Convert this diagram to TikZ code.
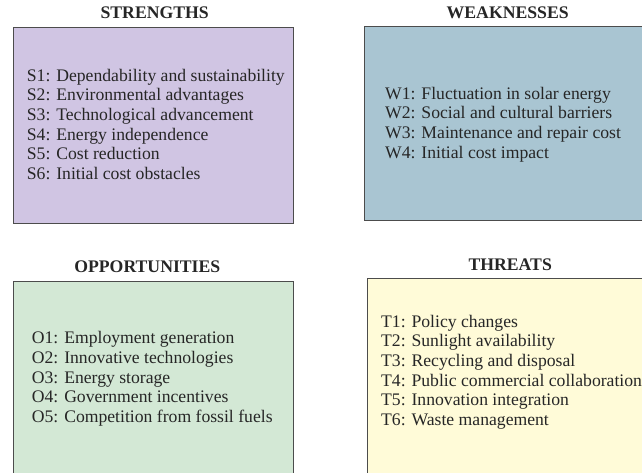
\documentclass[tikz,border=0pt]{standalone}
\usepackage{fontspec}
\setmainfont{Liberation Serif}
\definecolor{strcol}{HTML}{D0C5E3}
\definecolor{weakcol}{HTML}{A9C5D2}
\definecolor{oppcol}{HTML}{D3E8D5}
\definecolor{thrcol}{HTML}{FFFBD8}
\tikzset{
swotbox/.style={
	  draw=black!70, line width=0.9pt, anchor=north west, inner sep=0pt},
swottitle/.style={
	  font=\fontsize{17.7}{19.7}\selectfont\bfseries, text=black!85, anchor=base},
swotitem/.style={
	  font=\fontsize{17.65}{19.7}\selectfont, text=black!85, anchor=base west, inner sep=0pt}
}

\begin{document}
\begin{tikzpicture}[x=1pt, y=1pt]
	\clip (0,0) rectangle (642,-472);
	% boxes
	\node[swotbox, fill=strcol, minimum width=280pt, minimum height=195.7pt] (sbox) at (12.7,-27) {};
	\node[swotbox, fill=weakcol, minimum width=290pt, minimum height=194.3pt] (wbox) at (363.7,-26) {};
	\node[swotbox, fill=oppcol, minimum width=280pt, minimum height=200pt] (obox) at (12.7,-280.7) {};
	\node[swotbox, fill=thrcol, minimum width=290pt, minimum height=205pt] (tbox) at (367.3,-278.3) {};
	% titles
	\node[swottitle] (stitle) at (154.7,-18.9) {STRENGTHS};
	\node[swottitle] (wtitle) at (507.7,-18) {WEAKNESSES};
	\node[swottitle] (otitle) at (147.3,-272) {OPPORTUNITIES};
	\node[swottitle] (ttitle) at (510.2,-270) {THREATS};
	% lists
	\foreach \txt [count=\i] in {S1: Dependability and sustainability, S2: Environmental advantages,
		S3: Technological advancement, S4: Energy independence, S5: Cost reduction, S6: Initial cost obstacles}
		\node[swotitem] (s\i) at (26.7,{-81-19.7*(\i-1)}) {\txt};
	\foreach \txt [count=\i] in {W1: Fluctuation in solar energy, W2: Social and cultural barriers,
		W3: Maintenance and repair cost, W4: Initial cost impact}
		\node[swotitem] (w\i) at (385,{-99-19.7*(\i-1)}) {\txt};
	\foreach \txt [count=\i] in {O1: Employment generation, O2: Innovative technologies, O3: Energy storage,
		O4: Government incentives, O5: Competition from fossil fuels}
		\node[swotitem] (o\i) at (31.7,{-343.7-19.7*(\i-1)}) {\txt};
	\foreach \txt [count=\i] in {T1: Policy changes, T2: Sunlight availability, T3: Recycling and disposal,
		T4: Public commercial collaboration, T5: Innovation integration, T6: Waste management}
		\node[swotitem] (t\i) at (381,{-327-19.7*(\i-1)}) {\txt};
\end{tikzpicture}
\end{document}
